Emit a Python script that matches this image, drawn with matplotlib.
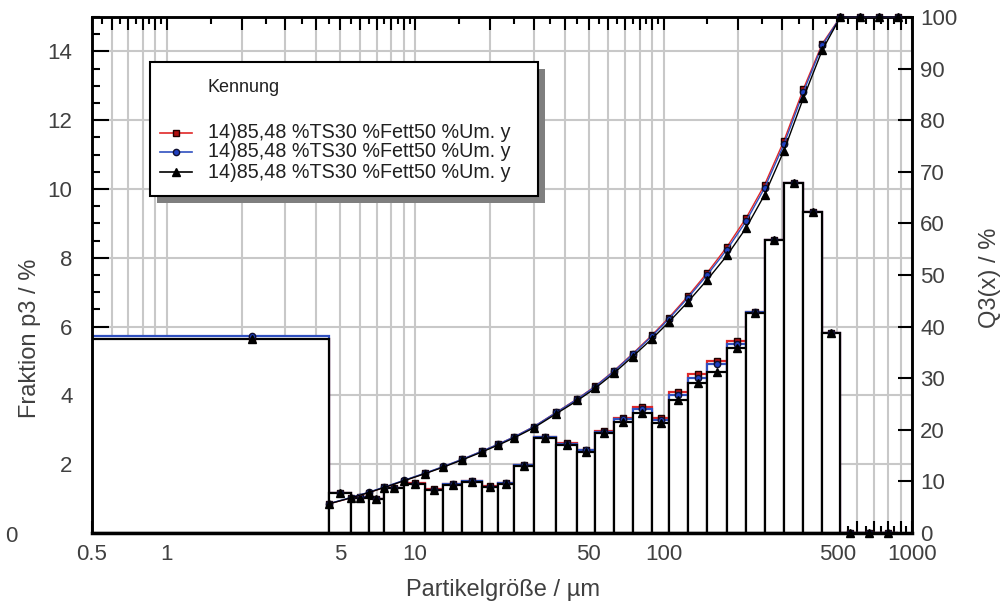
import numpy as np
import matplotlib
matplotlib.use("Agg")
import matplotlib.pyplot as plt
from matplotlib.ticker import FixedLocator, FuncFormatter, MultipleLocator
from matplotlib.patches import Rectangle
from matplotlib.lines import Line2D

# class boundaries of the measuring range (µm)
edges = [0.5, 4.5, 5.5, 6.5, 7.5, 9.0, 11, 13, 15.5, 18.5, 21.5, 25, 30, 37,
         45, 53, 63, 75, 90, 105, 125, 150, 180, 215, 255, 305, 365, 435,
         515, 615, 735, 875]

# fraction per class p3 / %
p3_red = [5.65, 1.15, 1.04, 0.99, 1.31, 1.44, 1.27, 1.43, 1.52, 1.36, 1.45,
          1.98, 2.80, 2.62, 2.42, 2.96, 3.34, 3.66, 3.34, 4.11, 4.62, 5.01,
          5.59, 6.43, 8.52, 10.17, 9.34, 5.81, 0, 0, 0]
p3_blue = [5.72, 1.17, 1.04, 0.99, 1.31, 1.43, 1.26, 1.42, 1.51, 1.35, 1.44,
           1.97, 2.78, 2.60, 2.40, 2.94, 3.30, 3.60, 3.29, 4.02, 4.52, 4.90,
           5.50, 6.43, 8.52, 10.17, 9.34, 5.81, 0, 0, 0]
p3_black = [5.65, 1.15, 1.03, 0.98, 1.30, 1.42, 1.25, 1.40, 1.49, 1.33, 1.42,
            1.95, 2.75, 2.56, 2.36, 2.90, 3.24, 3.50, 3.19, 3.87, 4.35, 4.69,
            5.37, 6.39, 8.52, 10.17, 9.34, 5.81, 0, 0, 0]

# cumulative Q3 / % at the upper class boundaries
q3_red = [5.65, 6.80, 7.84, 8.83, 10.14, 11.58, 12.85, 14.28, 15.80, 17.16,
          18.61, 20.59, 23.39, 26.01, 28.43, 31.39, 34.73, 38.39, 41.73, 45.84,
          50.46, 55.47, 61.06, 67.49, 76.0, 86.0, 94.8, 100, 100, 100, 100]
q3_blue = [5.70, 6.87, 7.91, 8.90, 10.21, 11.64, 12.90, 14.32, 15.83, 17.18,
           18.62, 20.59, 23.37, 25.97, 28.37, 31.31, 34.61, 38.21, 41.50, 45.52,
           50.04, 54.94, 60.44, 66.87, 75.3, 85.4, 94.5, 100, 100, 100, 100]
q3_black = [5.65, 6.80, 7.83, 8.81, 10.11, 11.53, 12.78, 14.18, 15.67, 17.00,
            18.42, 20.37, 23.12, 25.68, 28.04, 30.94, 34.18, 37.68, 40.87, 44.74,
            49.09, 53.78, 59.15, 65.54, 74.06, 84.23, 93.57, 100, 100, 100, 100]

label = "14)85,48 %TS30 %Fett50 %Um. y"
x_labels = [0.5, 1, 5, 10, 50, 100, 500, 1000]

W, H = 1003, 613
plt.rcParams["font.family"] = ["Liberation Sans", "DejaVu Sans"]
TXT = "#404040"

fig = plt.figure(figsize=(W / 100, H / 100), dpi=100)
ax = fig.add_axes([92 / W, 1 - 533 / H, 820 / W, 516 / H])

e = np.array(edges)
lefts = e[:-1]
widths = np.diff(e)
mids = np.sqrt(e[:-1] * e[1:])
mids[0] = 2.2  # the software puts the first class marker here

series = [
    (p3_red, q3_red, "#e02828", dict(marker="s", ms=5, mfc="#b01010", mec="#200000")),
    (p3_blue, q3_blue, "#3050c0", dict(marker="o", ms=4.5, mfc="#2040c0", mec="#101030")),
    (p3_black, q3_black, "black", dict(marker="^", ms=6, mfc="black", mec="black")),
]

for p3, q3, col, mk in series:
    ax.bar(lefts, p3, width=widths, align="edge", facecolor="white",
           edgecolor=col, linewidth=1.6, zorder=1)

ax.set_xscale("log")
ax.set_xlim(0.5, 1000)
ax.set_ylim(0, 15)

ax2 = ax.twinx()
ax2.set_ylim(0, 100)

for p3, q3, col, mk in series:
    ax.plot(mids, p3, linestyle="none", zorder=3, clip_on=False, **mk)
    ax2.plot(e[1:], q3, color=col, linewidth=1, zorder=3, clip_on=False, **mk)

# ticks and grid
grid_x = [m * d for d in (0.1, 1, 10, 100) for m in range(1, 10)] + [1000]
grid_x = [g for g in grid_x if 0.5 < g <= 1000]
half_x = [(m + 0.5) * d for d in (0.1, 1, 10, 100) for m in range(1, 10)]
half_x = [g for g in half_x if 0.5 < g < 1000]

ax.xaxis.set_major_locator(FixedLocator([0.5] + grid_x))
ax.xaxis.set_minor_locator(FixedLocator(half_x))
ax.xaxis.set_major_formatter(
    FuncFormatter(lambda v, p: (f"{v:g}" if any(abs(v - l) < 1e-9 for l in x_labels) else "")))
ax.xaxis.set_minor_formatter(FuncFormatter(lambda v, p: ""))

ax.yaxis.set_major_locator(MultipleLocator(2))
ax.yaxis.set_minor_locator(MultipleLocator(0.5))
ax.yaxis.set_major_formatter(FuncFormatter(lambda v, p: "" if v == 0 else f"{v:g}"))
ax2.yaxis.set_major_locator(MultipleLocator(10))

ax.grid(True, which="major", color="#c8c8c8", linewidth=1.5, zorder=0)
ax.set_axisbelow(True)

ax.tick_params(axis="x", which="major", direction="in", top=True, length=9,
               width=1.5, pad=8, labelsize=16, labelcolor=TXT)
ax.tick_params(axis="x", which="minor", direction="in", top=True, length=5,
               width=1.5)
ax.tick_params(axis="y", which="major", direction="in", length=12, width=1.5,
               pad=14, labelsize=16, labelcolor=TXT)
ax.tick_params(axis="y", which="minor", direction="in", length=6, width=1.5)
ax2.tick_params(axis="y", which="major", direction="in", length=10, width=1.5,
                pad=6, labelsize=16, labelcolor=TXT)

for a in (ax, ax2):
    for s in a.spines.values():
        s.set_linewidth(1.8)
ax.spines["bottom"].set_linewidth(2.5)

fig.text(11 / W, 1 - 536 / H, "0", ha="center", va="center", fontsize=16, color=TXT)

fig.text(30 / W, 1 - 338 / H, "Fraktion p3 / %", rotation=90, ha="center",
         va="center", fontsize=17, color=TXT)
fig.text(990 / W, 1 - 278 / H, "Q3(x) / %", rotation=90, ha="center",
         va="center", fontsize=17, color=TXT)
fig.text(503 / W, 1 - 590 / H, "Partikelgröße / µm", ha="center", va="center",
         fontsize=17, color=TXT)


# legend box with shadow
def fx(x):
    return x / W


def fy(y):
    return 1 - y / H


fig.add_artist(Rectangle((fx(157), fy(203)), 388 / W, 134 / H,
                         transform=fig.transFigure, facecolor="#7f7f7f",
                         edgecolor="none", zorder=10))
fig.add_artist(Rectangle((fx(150), fy(196)), 388 / W, 134 / H,
                         transform=fig.transFigure, facecolor="white",
                         edgecolor="black", linewidth=1.5, zorder=11))
fig.text(fx(208), fy(88), "Kennung", ha="left", va="center", fontsize=13,
         color="#202020", zorder=12)
for yy, (p3, q3, col, mk) in zip([133, 152, 172], series):
    fig.add_artist(Line2D([fx(160), fx(192)], [fy(yy), fy(yy)],
                          transform=fig.transFigure, color=col, linewidth=1.2,
                          zorder=12))
    fig.add_artist(Line2D([fx(176)], [fy(yy)], transform=fig.transFigure,
                          linestyle="none", zorder=13, **mk))
    fig.text(fx(208), fy(yy), label, ha="left", va="center", fontsize=14.2,
             color="#202020", zorder=12)

fig.savefig("out.png", dpi=100)
